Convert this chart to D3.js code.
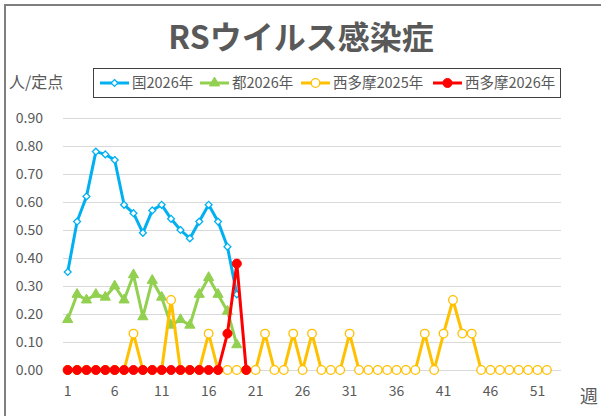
<!DOCTYPE html>
<html><head><meta charset="utf-8">
<script src="https://cdn.jsdelivr.net/npm/d3@7"></script>
<style>
html,body{margin:0;padding:0;background:#fff;}
text{font-family:"Noto Sans CJK JP","Noto Sans",sans-serif;}
</style></head>
<body>
<script>
const weeks = [1,2,3,4,5,6,7,8,9,10,11,12,13,14,15,16,17,18,19,20,21,22,23,24,25,26,27,28,29,30,31,32,33,34,35,36,37,38,39,40,41,42,43,44,45,46,47,48,49,50,51,52,53];
const xTickLabels = [1,6,11,16,21,26,31,36,41,46,51];
const yTickValues = [0,0.1,0.2,0.3,0.4,0.5,0.6,0.7,0.8,0.9];
const kuni2026 = [0.35,0.53,0.62,0.78,0.77,0.75,0.59,0.56,0.49,0.57,0.59,0.54,0.50,0.47,0.53,0.59,0.53,0.44,0.27];
const to2026 = [0.18,0.27,0.25,0.27,0.26,0.30,0.25,0.34,0.19,0.32,0.26,0.16,0.18,0.16,0.27,0.33,0.27,0.21,0.09];
const nishitama2025 = [0,0,0,0,0,0,0,0.13,0,0,0,0.25,0,0,0,0.13,0,0,0,0,0,0.13,0,0,0.13,0,0.13,0,0,0,0.13,0,0,0,0,0,0,0,0.13,0,0.13,0.25,0.13,0.13,0,0,0,0,0,0,0,0];
const nishitama2026 = [0,0,0,0,0,0,0,0,0,0,0,0,0,0,0,0,0,0.13,0.38,0];
const seriesNames = ["国2026年","都2026年","西多摩2025年","西多摩2026年"];
const seriesColors = ["#00b0f0","#92d050","#ffc000","#ff0000"];
const seriesMarkers = ["diamond","triangle","circleOpen","circleFilled"];
const seriesData = [kuni2026,to2026,nishitama2025,nishitama2026];

const W=601,H=416;
const svg=d3.select("body").append("svg").attr("width",W).attr("height",H);
svg.append("rect").attr("width",W).attr("height",H).attr("fill","#fff");
svg.append("rect").attr("x",5).attr("y",5).attr("width",800).attr("height",600)
  .attr("fill","none").attr("stroke","#7f7f7f").attr("stroke-width",2);

const x=d3.scaleBand().domain(weeks).range([63,561]);
const y=d3.scaleLinear().domain([0,0.9]).range([370,118]);
const cx=w=>x(w)+x.bandwidth()/2;

// gridlines + y axis
const gy=svg.append("g").attr("transform","translate(63,0)")
  .call(d3.axisLeft(y).tickValues(yTickValues).tickFormat(d3.format(".2f")).tickSize(-(561-63)).tickPadding(20));
gy.select(".domain").remove();
gy.selectAll("line").attr("stroke","#d9d9d9").attr("stroke-width",1);
gy.selectAll("text").attr("fill","#595959").style("font-size","14px").attr("x",-20);

// x axis
const gx=svg.append("g").attr("transform","translate(0,370)")
  .call(d3.axisBottom(x).tickValues(xTickLabels).tickSize(0).tickPadding(16));
gx.select(".domain").remove();
gx.selectAll("text").attr("fill","#595959").style("font-size","14px");

const line=d3.line().x((d,i)=>cx(weeks[i])).y(d=>y(d));

function marker(g,type,color,px,py){
  if(type==="diamond"){
    g.append("path").attr("d",d3.symbol(d3.symbolDiamond2,30)()).attr("transform",`translate(${px},${py})`)
      .attr("fill","#fff").attr("stroke",color).attr("stroke-width",1.3);
  } else if(type==="triangle"){
    g.append("path").attr("d",d3.symbol(d3.symbolTriangle,45)()).attr("transform",`translate(${px},${py})`)
      .attr("fill",color).attr("stroke",color).attr("stroke-width",1);
  } else if(type==="circleOpen"){
    g.append("circle").attr("cx",px).attr("cy",py).attr("r",4.3)
      .attr("fill","#fff").attr("stroke",color).attr("stroke-width",1.3);
  } else {
    g.append("circle").attr("cx",px).attr("cy",py).attr("r",4.5)
      .attr("fill",color).attr("stroke",color).attr("stroke-width",1);
  }
}

seriesData.forEach((data,si)=>{
  const g=svg.append("g");
  g.append("path").datum(data).attr("d",line).attr("fill","none")
    .attr("stroke",seriesColors[si]).attr("stroke-width",3).attr("stroke-linejoin","round");
  data.forEach((v,i)=>marker(g,seriesMarkers[si],seriesColors[si],cx(weeks[i]),y(v)));
});

// title
svg.append("text").attr("x",301).attr("y",49).attr("text-anchor","middle")
  .attr("fill","#595959").style("font-size","32px").style("font-weight","bold").text("RSウイルス感染症");
// y title
svg.append("text").attr("x",9).attr("y",88).attr("fill","#595959").style("font-size","16px").text("人/定点");
// x title
svg.append("text").attr("x",580).attr("y",403).attr("fill","#595959").style("font-size","18px").text("週");

// legend
const lg=svg.append("g");
lg.append("rect").attr("x",93.5).attr("y",68.5).attr("width",467).attr("height",29)
  .attr("fill","#fff").attr("stroke","#404040").attr("stroke-width",1);
const legX=[100,200,301,433];
seriesNames.forEach((n,i)=>{
  const lx=legX[i], ly=83;
  lg.append("line").attr("x1",lx).attr("x2",lx+29).attr("y1",ly).attr("y2",ly)
    .attr("stroke",seriesColors[i]).attr("stroke-width",3);
  marker(lg,seriesMarkers[i],seriesColors[i],lx+14.5,ly);
  lg.append("text").attr("x",lx+32).attr("y",ly+5).attr("fill","#595959").style("font-size","14.5px").text(n);
});
</script>
</body></html>
